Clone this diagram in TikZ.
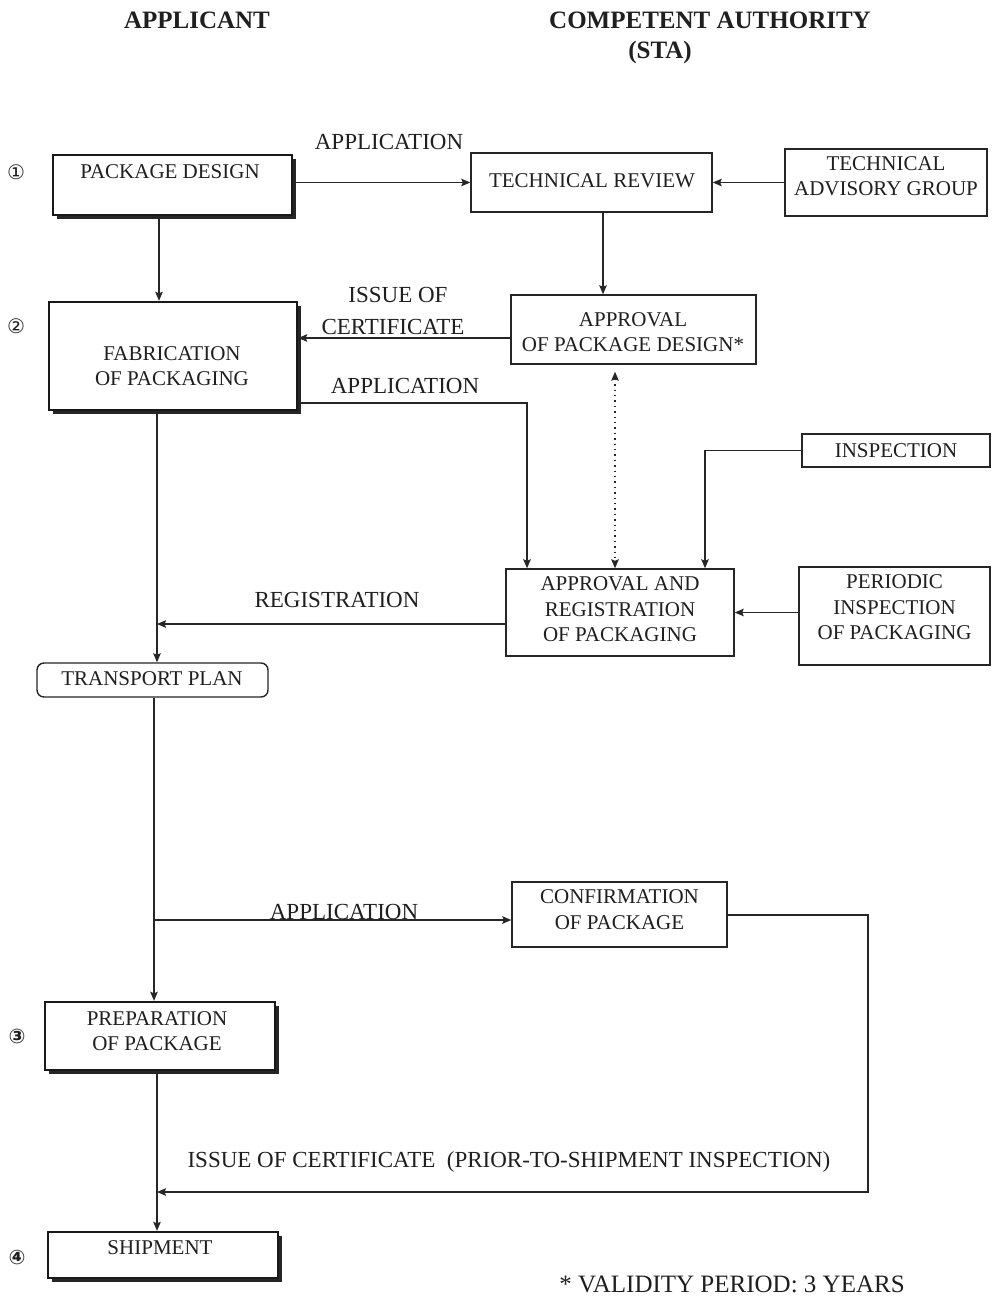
\documentclass[tikz,border=0pt]{standalone}
\usepackage{fontspec}
\setmainfont{Liberation Serif}
\newfontfamily\symfont{DejaVu Sans}
\usetikzlibrary{arrows.meta,calc}
\begin{document}
\begin{tikzpicture}[x=1pt,y=-1pt,
  line/.style={draw=black!85, line width=1.4pt},
  arr/.style={line, -{Stealth[length=9pt,width=7.5pt,inset=1.5pt]}},
  thinbox/.style={draw=black!85, line width=1.4pt, inner sep=0pt, fill=white},
  thickbox/.style={draw=black!90, line width=2.4pt, fill=white, inner sep=0pt,
    preaction={fill=black!85, transform canvas={shift={(3.5pt,-3.5pt)}}}},
  btext/.style={font=\fontsize{21}{25.5}\selectfont, text=black!88, align=center, inner sep=0pt},
  ltext/.style={font=\fontsize{23}{27}\selectfont, text=black!88, inner sep=0pt},
  htext/.style={font=\bfseries\fontsize{25}{30}\selectfont, text=black!88, inner sep=0pt},
  num/.style={font=\symfont\fontsize{20}{20}\selectfont, text=black!88, inner sep=0pt}
]
\useasboundingbox (0,0) rectangle (995,1298);
\fill[white] (0,0) rectangle (995,1298);

% column / row helper coordinates
\coordinate (x154) at (154,0);
\coordinate (x157) at (157,0);
\coordinate (x158) at (159,0);
\coordinate (x527) at (527,0);
\coordinate (x603) at (603,0);
\coordinate (x615) at (615,0);
\coordinate (x705) at (705,0);
\coordinate (x868) at (868,0);
\coordinate (y338) at (0,338);
\coordinate (y403) at (0,403);
\coordinate (y624) at (0,624);
\coordinate (y915) at (0,915);
\coordinate (y920) at (0,920);
\coordinate (y1192) at (0,1192);

% headers
\node[htext] (h1) at (197,20) {APPLICANT};
\node[htext] (h2) at (710,20) {COMPETENT AUTHORITY};
\node[htext] (h3) at (660,52) {(STA)};

% step numbers
\node[num] (n1) at (16,172) {①};
\node[num] (n2) at (16,326) {②};
\node[num, font=\symfont\bfseries\fontsize{20}{20}\selectfont] (n3) at (17,1036) {③};
\node[num, font=\symfont\bfseries\fontsize{20}{20}\selectfont] (n4) at (17,1257) {④};

% applicant column
\node[thickbox, minimum width=239pt, minimum height=60pt] (pd) at (172.5,185) {};
\node[btext] (tpd) at (170,172) {PACKAGE DESIGN};
\node[thickbox, minimum width=248pt, minimum height=108pt] (fab) at (173,356) {};
\node[btext] (tfab) at (172,366) {FABRICATION\\OF PACKAGING};
\node[thinbox, rounded corners=7pt, minimum width=231pt, minimum height=34pt] (tp) at (152.5,680) {};
\node[btext] (ttp) at (152,679) {TRANSPORT PLAN};
\node[thickbox, minimum width=230pt, minimum height=68pt] (prep) at (160,1036) {};
\node[btext] (tprep) at (157,1031) {PREPARATION\\OF PACKAGE};
\node[thickbox, minimum width=230pt, minimum height=46pt] (ship) at (163,1255) {};
\node[btext] (tship) at (160,1248) {SHIPMENT};

% authority column
\node[thinbox, minimum width=241pt, minimum height=59pt] (tr) at (591.5,182.5) {};
\node[btext] (ttr) at (592,181) {TECHNICAL REVIEW};
\node[thinbox, minimum width=202pt, minimum height=67pt] (tag) at (886,182.5) {};
\node[btext] (ttag) at (886,176) {TECHNICAL\\ADVISORY GROUP};
\node[thinbox, minimum width=245pt, minimum height=69pt] (apd) at (633.5,329.5) {};
\node[btext] (tapd) at (633,332) {APPROVAL\\OF PACKAGE DESIGN*};
\node[thinbox, minimum width=188pt, minimum height=33pt] (insp) at (896,450.5) {};
\node[btext] (tinsp) at (896,451) {INSPECTION};
\node[thinbox, minimum width=228pt, minimum height=87pt] (arp) at (620,612.5) {};
\node[btext] (tarp) at (620,609.5) {APPROVAL AND\\REGISTRATION\\OF PACKAGING};
\node[thinbox, minimum width=191pt, minimum height=98pt] (per) at (894.5,616) {};
\node[btext] (tper) at (894.5,607.5) {PERIODIC\\INSPECTION\\OF PACKAGING};
\node[thinbox, minimum width=215pt, minimum height=65pt] (conf) at (619.5,914.5) {};
\node[btext] (tconf) at (619.5,909.5) {CONFIRMATION\\OF PACKAGE};

% connector labels
\node[ltext] (l1) at (389,142) {APPLICATION};
\node[ltext] (l2) at (398,295) {ISSUE OF};
\node[ltext] (l3) at (393,327) {CERTIFICATE};
\node[ltext] (l4) at (405,386) {APPLICATION};
\node[ltext] (l5) at (337,600) {REGISTRATION};
\node[ltext, anchor=base] (l6) at (344,919) {APPLICATION};
\node[ltext] (l7) at (509,1162) {ISSUE OF CERTIFICATE\ \ (PRIOR-TO-SHIPMENT INSPECTION)};
\node[ltext, font=\fontsize{25}{30}\selectfont] (foot) at (732,1284) {* VALIDITY PERIOD: 3 YEARS};

% connectors
\draw[arr] (pd.east |- tr.west) -- (tr.west);
\draw[arr] (tag.west) -- (tr.east);
\draw[arr] (tr.south -| x603) -- (apd.north -| x603);
\draw[arr] (pd.south -| x158) -- (fab.north -| x158);
\draw[arr] (apd.west |- y338) -- (fab.east |- y338);
\draw[arr] (fab.east |- y403) -| (arp.north -| x527);
\draw[line, dash pattern=on 1.4pt off 4pt, {Stealth[length=9pt,width=7.5pt,inset=1.5pt]}-{Stealth[length=9pt,width=7.5pt,inset=1.5pt]}, shorten <=7pt]
  (apd.south -| x615) -- (arp.north -| x615);
\draw[arr] (insp.west) -| (arp.north -| x705);
\draw[arr] (per.west |- arp.east) -- (arp.east);
\draw[arr] (arp.west |- y624) -- (x157 |- y624);
\draw[arr] (fab.south -| x157) -- (tp.north -| x157);
\draw[arr] (tp.south -| x154) -- (prep.north -| x154);
\draw[arr] (x154 |- y920) -- (conf.west |- y920);
\draw[arr] (conf.east |- y915) -- (x868 |- y915) -- (x868 |- y1192) -- (x157 |- y1192);
\draw[arr] (prep.south -| x157) -- (ship.north -| x157);
\end{tikzpicture}
\end{document}
